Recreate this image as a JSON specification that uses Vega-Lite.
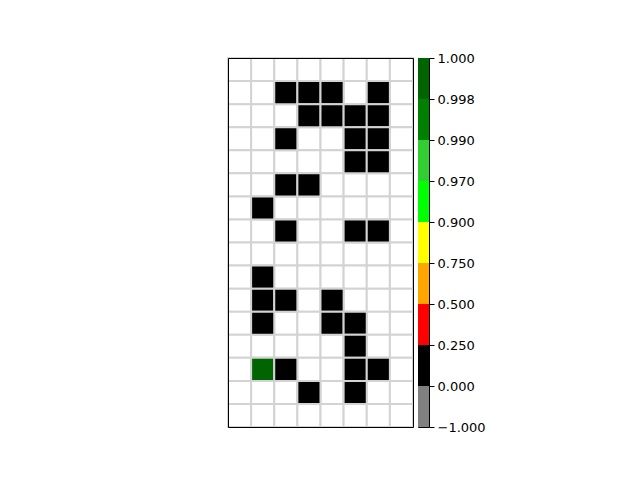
{
  "$schema": "https://vega.github.io/schema/vega-lite/v6.json",
  "padding": {"left": 226, "top": 51, "right": 5, "bottom": 5},
  "background": "white",
  "config": {"view": {"stroke": "black", "strokeWidth": 1}, "font": "DejaVu Sans"},
  "spacing": 2,
  "hconcat": [
    {
      "width": 185,
      "height": 369,
      "data": {"values": [
        {"r":0,"c":0,"v":null},{"r":0,"c":1,"v":null},{"r":0,"c":2,"v":null},{"r":0,"c":3,"v":null},{"r":0,"c":4,"v":null},{"r":0,"c":5,"v":null},{"r":0,"c":6,"v":null},{"r":0,"c":7,"v":null},
        {"r":1,"c":0,"v":null},{"r":1,"c":1,"v":null},{"r":1,"c":2,"v":0.1},{"r":1,"c":3,"v":0.1},{"r":1,"c":4,"v":0.1},{"r":1,"c":5,"v":null},{"r":1,"c":6,"v":0.1},{"r":1,"c":7,"v":null},
        {"r":2,"c":0,"v":null},{"r":2,"c":1,"v":null},{"r":2,"c":2,"v":null},{"r":2,"c":3,"v":0.1},{"r":2,"c":4,"v":0.1},{"r":2,"c":5,"v":0.1},{"r":2,"c":6,"v":0.1},{"r":2,"c":7,"v":null},
        {"r":3,"c":0,"v":null},{"r":3,"c":1,"v":null},{"r":3,"c":2,"v":0.1},{"r":3,"c":3,"v":null},{"r":3,"c":4,"v":null},{"r":3,"c":5,"v":0.1},{"r":3,"c":6,"v":0.1},{"r":3,"c":7,"v":null},
        {"r":4,"c":0,"v":null},{"r":4,"c":1,"v":null},{"r":4,"c":2,"v":null},{"r":4,"c":3,"v":null},{"r":4,"c":4,"v":null},{"r":4,"c":5,"v":0.1},{"r":4,"c":6,"v":0.1},{"r":4,"c":7,"v":null},
        {"r":5,"c":0,"v":null},{"r":5,"c":1,"v":null},{"r":5,"c":2,"v":0.1},{"r":5,"c":3,"v":0.1},{"r":5,"c":4,"v":null},{"r":5,"c":5,"v":null},{"r":5,"c":6,"v":null},{"r":5,"c":7,"v":null},
        {"r":6,"c":0,"v":null},{"r":6,"c":1,"v":0.1},{"r":6,"c":2,"v":null},{"r":6,"c":3,"v":null},{"r":6,"c":4,"v":null},{"r":6,"c":5,"v":null},{"r":6,"c":6,"v":null},{"r":6,"c":7,"v":null},
        {"r":7,"c":0,"v":null},{"r":7,"c":1,"v":null},{"r":7,"c":2,"v":0.1},{"r":7,"c":3,"v":null},{"r":7,"c":4,"v":null},{"r":7,"c":5,"v":0.1},{"r":7,"c":6,"v":0.1},{"r":7,"c":7,"v":null},
        {"r":8,"c":0,"v":null},{"r":8,"c":1,"v":null},{"r":8,"c":2,"v":null},{"r":8,"c":3,"v":null},{"r":8,"c":4,"v":null},{"r":8,"c":5,"v":null},{"r":8,"c":6,"v":null},{"r":8,"c":7,"v":null},
        {"r":9,"c":0,"v":null},{"r":9,"c":1,"v":0.1},{"r":9,"c":2,"v":null},{"r":9,"c":3,"v":null},{"r":9,"c":4,"v":null},{"r":9,"c":5,"v":null},{"r":9,"c":6,"v":null},{"r":9,"c":7,"v":null},
        {"r":10,"c":0,"v":null},{"r":10,"c":1,"v":0.1},{"r":10,"c":2,"v":0.1},{"r":10,"c":3,"v":null},{"r":10,"c":4,"v":0.1},{"r":10,"c":5,"v":null},{"r":10,"c":6,"v":null},{"r":10,"c":7,"v":null},
        {"r":11,"c":0,"v":null},{"r":11,"c":1,"v":0.1},{"r":11,"c":2,"v":null},{"r":11,"c":3,"v":null},{"r":11,"c":4,"v":0.1},{"r":11,"c":5,"v":0.1},{"r":11,"c":6,"v":null},{"r":11,"c":7,"v":null},
        {"r":12,"c":0,"v":null},{"r":12,"c":1,"v":null},{"r":12,"c":2,"v":null},{"r":12,"c":3,"v":null},{"r":12,"c":4,"v":null},{"r":12,"c":5,"v":0.1},{"r":12,"c":6,"v":null},{"r":12,"c":7,"v":null},
        {"r":13,"c":0,"v":null},{"r":13,"c":1,"v":1.0},{"r":13,"c":2,"v":0.1},{"r":13,"c":3,"v":null},{"r":13,"c":4,"v":null},{"r":13,"c":5,"v":0.1},{"r":13,"c":6,"v":0.1},{"r":13,"c":7,"v":null},
        {"r":14,"c":0,"v":null},{"r":14,"c":1,"v":null},{"r":14,"c":2,"v":null},{"r":14,"c":3,"v":0.1},{"r":14,"c":4,"v":null},{"r":14,"c":5,"v":0.1},{"r":14,"c":6,"v":null},{"r":14,"c":7,"v":null},
        {"r":15,"c":0,"v":null},{"r":15,"c":1,"v":null},{"r":15,"c":2,"v":null},{"r":15,"c":3,"v":null},{"r":15,"c":4,"v":null},{"r":15,"c":5,"v":null},{"r":15,"c":6,"v":null},{"r":15,"c":7,"v":null}
      ]},
      "layer": [
        {
          "mark": {"type": "rect", "fill": "white", "stroke": "#d3d3d3", "strokeWidth": 2},
          "encoding": {
            "x": {"field": "c", "type": "ordinal", "scale": {"domain": [0,1,2,3,4,5,6,7], "paddingInner": 0, "paddingOuter": 0},
                  "axis": {"orient": "bottom", "title": null, "labels": false, "ticks": false, "domain": true, "domainColor": "black", "domainWidth": 1, "zindex": 1}},
            "y": {"field": "r", "type": "ordinal", "scale": {"domain": [0,1,2,3,4,5,6,7,8,9,10,11,12,13,14,15], "paddingInner": 0, "paddingOuter": 0},
                  "axis": {"orient": "left", "title": null, "labels": false, "ticks": false, "domain": true, "domainColor": "black", "domainWidth": 1, "zindex": 1}}
          }
        },
        {
          "transform": [{"filter": "datum.v !== null"}],
          "mark": {"type": "rect", "stroke": "#d3d3d3", "strokeWidth": 2},
          "encoding": {
            "x": {"field": "c", "type": "ordinal", "scale": {"domain": [0,1,2,3,4,5,6,7], "paddingInner": 0, "paddingOuter": 0},
                  "axis": {"orient": "top", "title": null, "labels": false, "ticks": false, "domain": true, "domainColor": "black", "domainWidth": 1, "zindex": 1}},
            "y": {"field": "r", "type": "ordinal", "scale": {"domain": [0,1,2,3,4,5,6,7,8,9,10,11,12,13,14,15], "paddingInner": 0, "paddingOuter": 0},
                  "axis": {"orient": "right", "title": null, "labels": false, "ticks": false, "domain": true, "domainColor": "black", "domainWidth": 1, "zindex": 1}},
            "fill": {
              "field": "v", "type": "quantitative", "legend": null,
              "scale": {"type": "threshold", "domain": [0, 0.25, 0.5, 0.75, 0.9, 0.97, 0.99, 0.998],
                        "range": ["#808080", "#000000", "#ff0000", "#ffa500", "#ffff00", "#00ff00", "#32cd32", "#008000", "#006400"]}
            }
          }
        }
      ],
      "resolve": {"axis": {"x": "independent", "y": "independent"}}
    },
    {
      "width": 11,
      "height": 369,
      "data": {"values": [
        {"lo": 0, "hi": 1, "from": -1},
        {"lo": 1, "hi": 2, "from": 0},
        {"lo": 2, "hi": 3, "from": 0.25},
        {"lo": 3, "hi": 4, "from": 0.5},
        {"lo": 4, "hi": 5, "from": 0.75},
        {"lo": 5, "hi": 6, "from": 0.9},
        {"lo": 6, "hi": 7, "from": 0.97},
        {"lo": 7, "hi": 8, "from": 0.99},
        {"lo": 8, "hi": 9, "from": 0.998}
      ]},
      "mark": {"type": "rect"},
      "encoding": {
        "x": {"value": 0},
        "x2": {"value": 11},
        "y": {"field": "lo", "type": "quantitative",
              "scale": {"domain": [0, 9], "nice": false, "zero": false},
              "axis": {"orient": "right", "title": null, "grid": false, "values": [0,1,2,3,4,5,6,7,8,9],
                       "labelExpr": "['−1.000','0.000','0.250','0.500','0.750','0.900','0.970','0.990','0.998','1.000'][datum.value]",
                       "domain": false, "tickColor": "black", "tickSize": 5, "tickWidth": 1,
                       "labelFont": "DejaVu Sans", "labelFontSize": 13, "labelColor": "black", "labelPadding": 3,
                       "labelOverlap": false, "labelFlush": false, "labelBound": false}},
        "y2": {"field": "hi"},
        "fill": {
          "field": "from", "type": "quantitative", "legend": null,
          "scale": {"type": "threshold", "domain": [0, 0.25, 0.5, 0.75, 0.9, 0.97, 0.99, 0.998],
                    "range": ["#808080", "#000000", "#ff0000", "#ffa500", "#ffff00", "#00ff00", "#32cd32", "#008000", "#006400"]}
        }
      }
    }
  ],
  "resolve": {"scale": {"fill": "independent"}}
}
